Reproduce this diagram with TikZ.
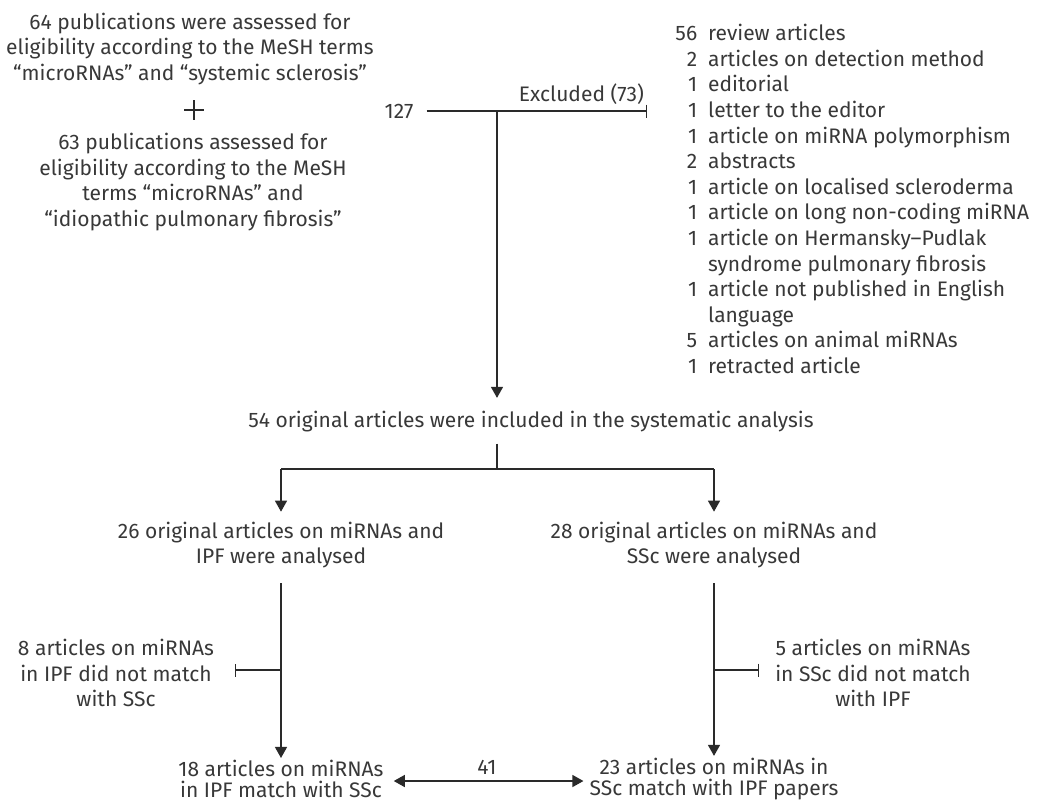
\documentclass[tikz,border=0pt]{standalone}
\usepackage{fontspec}
\setmainfont{Fira Sans}
\usetikzlibrary{arrows.meta,calc}
\definecolor{txt}{HTML}{383838}
\definecolor{ln}{HTML}{2A2A2A}
\begin{document}
\begin{tikzpicture}[x=1pt,y=-1pt,
  txtnode/.style={inner sep=0pt, align=center, text=txt, font=\fontsize{21}{25.4}\selectfont},
  tightnode/.style={txtnode, font=\fontsize{21}{21}\selectfont},
  conn/.style={draw=ln, line width=1.3pt},
  arr/.style={conn, -{Triangle[width=12pt,length=11pt]}},
  dbl/.style={conn, {Triangle[width=12pt,length=11pt]}-{Triangle[width=12pt,length=11pt]}},
  barend/.style={conn, -{Bar[width=13pt]}}]
\useasboundingbox (0,0) rectangle (1042,804);

\node[txtnode] (t64) at (190,49) {64 publications were assessed for\\eligibility according to the MeSH terms\\“microRNAs” and “systemic sclerosis”};
\coordinate (plus) at (194,110);
\draw[conn, line width=1.2pt] ($(plus)+(-10,0)$) -- ($(plus)+(10,0)$) ($(plus)+(0,-10)$) -- ($(plus)+(0,10)$);
\node[txtnode] (t63) at (193,182) {63 publications assessed for\\eligibility according to the MeSH\\terms “microRNAs” and\\“idiopathic pulmonary fibrosis”};

\node[txtnode] (n127) at (399,111) {127};
\coordinate (j1) at (497,111);
\coordinate (ex) at (647,111);
\draw[barend, shorten <=13pt] (n127.east) -- (ex);
\node[txtnode, anchor=east] (exl) at (644,94) {Excluded (73)};

\node[txtnode, anchor=north west, align=left, font=\fontsize{21}{25.6}\selectfont] (list) at (671,22.6) {%
\begin{tabular}{@{}r@{\hspace{11pt}}l@{}}
\makebox[26pt][r]{56} & review articles\\
2 & articles on detection method\\
1 & editorial\\
1 & letter to the editor\\
1 & article on miRNA polymorphism\\
2 & abstracts\\
1 & article on localised scleroderma\\
1 & article on long non-coding miRNA\\
1 & article on Hermansky–Pudlak\\
  & syndrome pulmonary fibrosis\\
1 & article not published in English\\
  & language\\
5 & articles on animal miRNAs\\
1 & retracted article
\end{tabular}};

\node[txtnode] (n54) at (531,422) {54 original articles were included in the systematic analysis};
\draw[arr, shorten >=13.5pt] (j1) -- (j1 |- n54.north);
\coordinate (jm) at (497,469);
\coordinate (jL) at (281,469);
\coordinate (jR) at (714,469);
\draw[conn, shorten <=11pt] (jm |- n54.south) -- (jm);
\draw[conn] (jL) -- (jR);

\node[txtnode] (n26) at (281,545) {26 original articles on miRNAs and\\IPF were analysed};
\node[txtnode] (n28) at (714,545) {28 original articles on miRNAs and\\SSc were analysed};
\draw[arr, shorten >=10pt] (jL) -- (n26.north);
\draw[arr, shorten >=10pt] (jR) -- (n28.north);

\node[tightnode] (n18) at (281,779) {18 articles on miRNAs\\in IPF match with SSc};
\node[tightnode] (n23) at (714,779) {23 articles on miRNAs in\\SSc match with IPF papers};
\draw[arr, shorten <=15pt, shorten >=2pt] (n26.south) -- (n18.north);
\draw[arr, shorten <=15pt, shorten >=2pt] (n28.south) -- (n23.north);

\coordinate (jl2) at (281,670);
\coordinate (bl) at (235,670);
\draw[barend] (jl2) -- (bl);
\coordinate (jr2) at (714,670);
\coordinate (br) at (759,670);
\draw[barend] (jr2) -- (br);

\node[txtnode] (n8) at (116,673) {8 articles on miRNAs\\in IPF did not match\\with SSc};
\node[txtnode] (n5) at (873,673) {5 articles on miRNAs\\in SSc did not match\\with IPF};

\node[txtnode] (n41) at (487,767) {41};
\draw[dbl, shorten <=10pt, shorten >=6pt] ([yshift=-2pt]n18.east) -- ([yshift=-2pt]n23.west);
\end{tikzpicture}
\end{document}
